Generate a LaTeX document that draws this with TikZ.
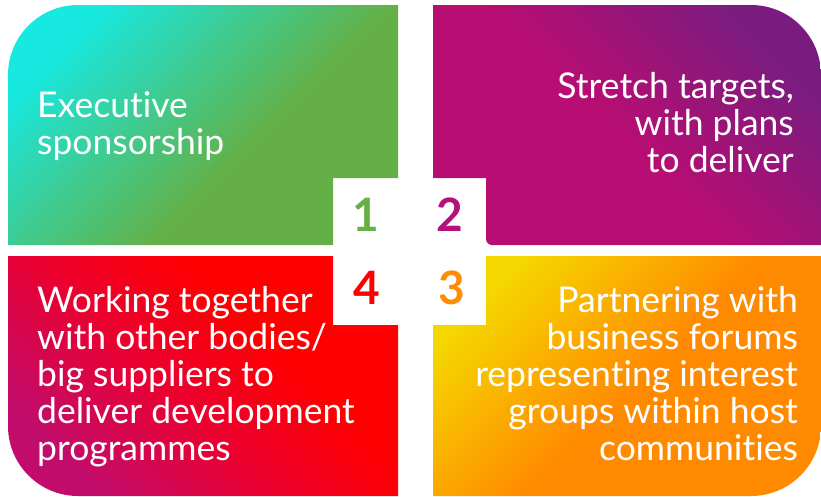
\documentclass[tikz,border=0pt]{standalone}
\usepackage{fontspec}
\setmainfont{Lato}[Ligatures=NoCommon]
\definecolor{qcyan}{HTML}{17E8E0}
\definecolor{qgreen}{HTML}{64B046}
\definecolor{qpurple}{HTML}{7A1C7F}
\definecolor{qmagenta}{HTML}{B80D72}
\definecolor{qred}{HTML}{FF0000}
\definecolor{qredmag}{HTML}{C10C6C}
\definecolor{qredmid}{HTML}{EC002E}
\definecolor{qyellow}{HTML}{F5D700}
\definecolor{qorange}{HTML}{FF8A00}
\definecolor{numgreen}{HTML}{66B046}
\definecolor{nummagenta}{HTML}{B5117A}
\definecolor{numred}{HTML}{FF0000}
\definecolor{numorange}{HTML}{FF8C00}
\pgfdeclareverticalshading{shadegreen}{100bp}{color(0bp)=(qgreen); color(25bp)=(qgreen); color(42bp)=(qgreen); color(75bp)=(qcyan); color(100bp)=(qcyan)}
\pgfdeclareverticalshading{shadepurple}{100bp}{color(0bp)=(qmagenta); color(25bp)=(qmagenta); color(48bp)=(qmagenta); color(75bp)=(qpurple); color(100bp)=(qpurple)}
\pgfdeclareverticalshading{shadered}{100bp}{color(0bp)=(qredmag); color(25bp)=(qredmag); color(45bp)=(qredmid); color(62bp)=(qred); color(100bp)=(qred)}
\pgfdeclareverticalshading{shadeorange}{100bp}{color(0bp)=(qorange); color(25bp)=(qorange); color(48bp)=(qorange); color(75bp)=(qyellow); color(100bp)=(qyellow)}
\tikzset{
  bodytext/.style={text=white, inner sep=0pt, font=\fontsize{35.5}{37}\selectfont},
  numlabel/.style={inner sep=0pt, font=\fontsize{46}{46}\selectfont\bfseries}
}
\begin{document}
\begin{tikzpicture}[x=1pt, y=-1pt]
  \useasboundingbox (0,0) rectangle (821,496);
  \shade[shading=shadegreen, shading angle=45]
    (8,245) -- (8,75) arc[start angle=180, end angle=270, radius=70]
    -- (398,5) -- (398,178) -- (333,178) -- (333,245) -- cycle;
  \shade[shading=shadepurple, shading angle=-45]
    (433,5) -- (751,5) arc[start angle=270, end angle=360, radius=70]
    -- (821,245) -- (492,245) arc[start angle=90, end angle=180, radius=6]
    -- (486,178) -- (433,178) -- cycle;
  \shade[shading=shadeorange, shading angle=45]
    (486,256) -- (821,256) -- (821,426) arc[start angle=0, end angle=90, radius=70]
    -- (433,496) -- (433,325) -- (486,325) -- cycle;
  \shade[shading=shadered, shading angle=-45]
    (8,256) -- (333,256) -- (333,325) -- (398,325) -- (398,496)
    -- (78,496) arc[start angle=90, end angle=180, radius=70] -- cycle;

  \node[bodytext, anchor=base west, align=left] (exec) at (37,154)
    {Executive\\sponsorship};
  \node[bodytext, anchor=base east, align=right] (stretch) at (794,172)
    {Stretch targets,\\with plans\\to deliver};
  \node[bodytext, anchor=base east, align=right] (partner) at (798,460)
    {Partnering with\\business forums\\representing interest\\groups within host\\communities};
  \node[bodytext, anchor=base west, align=left] (together) at (37,460)
    {Working together\\with other bodies/\\big suppliers to\\deliver development\\programmes};

  \foreach \num/\px/\py/\col in {1/366/215/numgreen, 2/450/215/nummagenta, 3/452/288/numorange, 4/367/288/numred} {
    \node[numlabel, text=\col] (n\num) at (\px,\py) {\num};
  }
\end{tikzpicture}
\end{document}
